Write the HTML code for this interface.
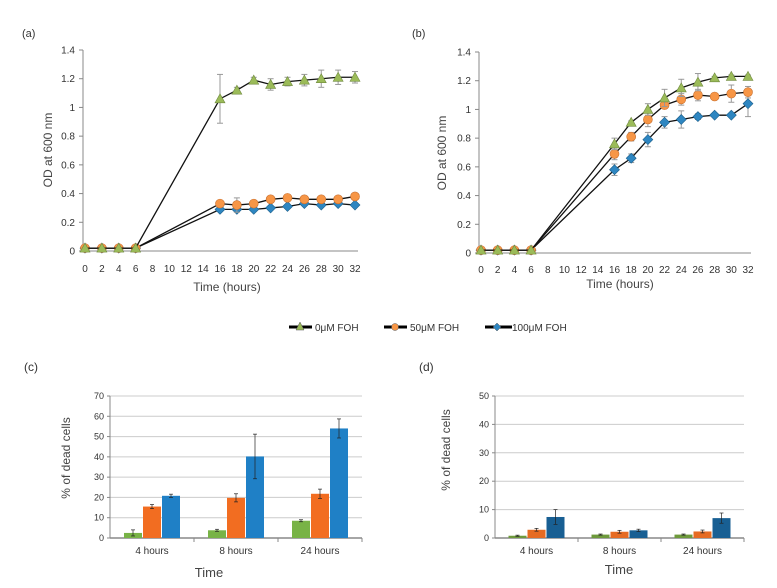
<!DOCTYPE html>
<html><head><meta charset="utf-8"><style>
body{margin:0;background:#fff;}
svg{display:block;font-family:"Liberation Sans",sans-serif;}
</style></head><body>
<svg id="fig" width="777" height="588" viewBox="0 0 777 588" xmlns="http://www.w3.org/2000/svg">
<text x="22" y="37" font-size="11" fill="#333">(a)</text>
<text x="412" y="37" font-size="11" fill="#333">(b)</text>
<text x="24" y="371" font-size="12" fill="#333">(c)</text>
<text x="419" y="371" font-size="12" fill="#333">(d)</text>
<g>
<line x1="289" y1="327" x2="312" y2="327" stroke="#000" stroke-width="3"/><polygon points="300,322 304,330 296,330" fill="#9bbb59" stroke="#555" stroke-width="0.5"/><text x="315" y="331" font-size="10" fill="#333">0μM FOH</text>
<line x1="384" y1="327" x2="407" y2="327" stroke="#000" stroke-width="3"/><circle cx="395" cy="327" r="3.5" fill="#f79646" stroke="#555" stroke-width="0.5"/><text x="410" y="331" font-size="10" fill="#333">50μM FOH</text>
<line x1="485" y1="327" x2="512" y2="327" stroke="#000" stroke-width="3"/><polygon points="497,323 501,327 497,331 493,327" fill="#2e86c1" stroke="#555" stroke-width="0.5"/><text x="512" y="331" font-size="10" fill="#333">100μM FOH</text>
</g>
</svg>
<script>
const hours=[0,2,4,6,16,18,20,22,24,26,28,30,32];
const xTicks=[0,2,4,6,8,10,12,14,16,18,20,22,24,26,28,30,32];
const odTicks=[0,0.2,0.4,0.6,0.8,1,1.2,1.4];
const aGreen=[0.02,0.02,0.02,0.02,1.06,1.12,1.19,1.16,1.18,1.19,1.2,1.21,1.21];
const aGreenErr=[0,0,0,0,0.17,0.02,0.02,0.04,0.03,0.04,0.06,0.05,0.04];
const aOrange=[0.02,0.02,0.02,0.02,0.33,0.32,0.33,0.36,0.37,0.36,0.36,0.36,0.38];
const aOrangeErr=[0,0,0,0,0.02,0.05,0.02,0.02,0.01,0.01,0.01,0.01,0.01];
const aBlue=[0.02,0.02,0.02,0.02,0.29,0.29,0.29,0.30,0.31,0.33,0.32,0.33,0.32];
const aBlueErr=[0,0,0,0,0.01,0.01,0.01,0.01,0.01,0.01,0.01,0.01,0.01];
const bGreen=[0.02,0.02,0.02,0.02,0.76,0.91,1.0,1.08,1.15,1.19,1.22,1.23,1.23];
const bGreenErr=[0,0,0,0,0.04,0.01,0.04,0.06,0.06,0.06,0.01,0.01,0.01];
const bOrange=[0.02,0.02,0.02,0.02,0.69,0.81,0.93,1.03,1.07,1.10,1.09,1.11,1.12];
const bOrangeErr=[0,0,0,0,0.04,0.03,0.05,0.02,0.04,0.04,0.02,0.06,0.04];
const bBlue=[0.02,0.02,0.02,0.02,0.58,0.66,0.79,0.91,0.93,0.95,0.96,0.96,1.04];
const bBlueErr=[0,0,0,0,0.04,0.03,0.05,0.04,0.06,0.02,0.01,0.01,0.09];
const barCats=["4 hours","8 hours","24 hours"];
const cTicks=[0,10,20,30,40,50,60,70];
const cGreen=[2.5,3.8,8.5], cGreenErr=[1.5,0.5,0.5];
const cOrange=[15.5,19.8,21.8], cOrangeErr=[1,2,2.3];
const cBlue=[20.8,40.2,54], cBlueErr=[0.8,11,4.7];
const dTicks=[0,10,20,30,40,50];
const dGreen=[0.8,1.2,1.2], dGreenErr=[0.2,0.2,0.2];
const dOrange=[2.9,2.2,2.3], dOrangeErr=[0.5,0.5,0.5];
const dBlue=[7.4,2.7,7.0], dBlueErr=[2.6,0.4,1.8];

const NS="http://www.w3.org/2000/svg";
const svg=document.getElementById('fig');
function mk(tag,attrs,parent){const e=document.createElementNS(NS,tag);for(const k in attrs)e.setAttribute(k,attrs[k]);(parent||svg).appendChild(e);return e;}

function linePanel(P,id,series){
  const g=mk('g',{});
  
  
  const X=v=>P.x0+(v-0)/32*(P.x1-P.x0);
  const Y=v=>P.y0-(v/1.4)*(P.y0-P.y1);
  mk('line',{x1:P.ax,y1:P.y1,x2:P.ax,y2:P.y0,stroke:'#888'},g);
  mk('line',{x1:P.ax,y1:P.y0,x2:P.x1+3,y2:P.y0,stroke:'#888'},g);
  odTicks.forEach(t=>{
    mk('line',{x1:P.ax-4,y1:Y(t),x2:P.ax,y2:Y(t),stroke:'#888'},g);
    const tx=mk('text',{x:P.ax-8,y:Y(t)+3.5,'font-size':10,'text-anchor':'end',fill:'#333'},g);
    tx.textContent=t;
    
    
  });
  xTicks.forEach(t=>{
    const tx=mk('text',{x:X(t),y:P.xl,'font-size':10,'text-anchor':'middle',fill:'#333'},g);
    tx.textContent=t;
    
    
  });
  const xt=mk('text',{x:P.tx,y:P.ty,'font-size':12,'text-anchor':'middle',fill:'#444'},g);
  xt.textContent='Time (hours)';
  
  
  const yt=mk('text',{x:0,y:0,'font-size':12,'text-anchor':'middle',fill:'#444',transform:`translate(${P.yx},${P.yy}) rotate(-90)`},g);
  yt.textContent='OD at 600 nm';
  
  
  series.forEach(s=>{
    const sg=mk('g',{},g);
    
    
    s.err.forEach((e,i)=>{if(e>0){const x=X(hours[i]);
      mk('line',{x1:x,y1:Y(s.v[i]-e),x2:x,y2:Y(s.v[i]+e),stroke:'#999'},sg);
      mk('line',{x1:x-3,y1:Y(s.v[i]-e),x2:x+3,y2:Y(s.v[i]-e),stroke:'#999'},sg);
      mk('line',{x1:x-3,y1:Y(s.v[i]+e),x2:x+3,y2:Y(s.v[i]+e),stroke:'#999'},sg);}});
    mk('polyline',{points:s.v.map((v,i)=>X(hours[i])+','+Y(v)).join(' '),fill:'none',stroke:'#111','stroke-width':1.3},sg);
    s.v.forEach((v,i)=>{const x=X(hours[i]),y=Y(v);let m;
      if(s.shape==='tri')m=mk('polygon',{points:`${x},${y-5} ${x+5},${y+4} ${x-5},${y+4}`,fill:'#9bbb59',stroke:'#6f8a3e','stroke-width':0.6},sg);
      else if(s.shape==='circ')m=mk('circle',{cx:x,cy:y,r:4.5,fill:'#f79646',stroke:'#c87030','stroke-width':0.6},sg);
      else m=mk('polygon',{points:`${x},${y-5} ${x+5},${y} ${x},${y+5} ${x-5},${y}`,fill:'#2e86c1',stroke:'#1d5f8a','stroke-width':0.6},sg);
      
      });
  });
}
linePanel({ax:83,x0:85,x1:355,y0:251,y1:50,xl:272,tx:227,ty:291,yx:52,yy:150},'panel-a',[
 {name:'100um',v:aBlue,err:aBlueErr,shape:'dia'},
 {name:'50um',v:aOrange,err:aOrangeErr,shape:'circ'},
 {name:'0um',v:aGreen,err:aGreenErr,shape:'tri'}]);
linePanel({ax:479,x0:481,x1:748,y0:253,y1:52,xl:273,tx:620,ty:288,yx:446,yy:153},'panel-b',[
 {name:'100um',v:bBlue,err:bBlueErr,shape:'dia'},
 {name:'50um',v:bOrange,err:bOrangeErr,shape:'circ'},
 {name:'0um',v:bGreen,err:bGreenErr,shape:'tri'}]);

function barPanel(P,id,ticks,max,series){
  const g=mk('g',{});
  
  
  const Y=v=>P.y0-v/max*(P.y0-P.y1);
  const cw=(P.x1-P.ax)/barCats.length;
  ticks.forEach(t=>{
    if(t>0)mk('line',{x1:P.ax,y1:Y(t),x2:P.x1,y2:Y(t),stroke:'#ccc'},g);
    mk('line',{x1:P.ax-3,y1:Y(t),x2:P.ax,y2:Y(t),stroke:'#888'},g);
    const tx=mk('text',{x:P.ax-6,y:Y(t)+3,'font-size':9,'text-anchor':'end',fill:'#333'},g);
    tx.textContent=t;
    
    
  });
  mk('line',{x1:P.ax,y1:P.y1,x2:P.ax,y2:P.y0,stroke:'#888'},g);
  mk('line',{x1:P.ax,y1:P.y0,x2:P.x1,y2:P.y0,stroke:'#888','stroke-width':1.5},g);
  barCats.forEach((c,i)=>{
    const cx=P.ax+cw*(i+0.5);
    mk('line',{x1:P.ax+cw*(i+1),y1:P.y0,x2:P.ax+cw*(i+1),y2:P.y0+4,stroke:'#888'},g);
    const tx=mk('text',{x:cx,y:P.y0+16,'font-size':10,'text-anchor':'middle',fill:'#333'},g);
    tx.textContent=c;
    
    
    series.forEach((s,j)=>{
      const bx=cx+(j-1)*19-9;
      const r=mk('rect',{x:bx,y:Y(s.v[i]),width:18,height:P.y0-Y(s.v[i]),fill:s.c},g);
      
      
      const e=s.err[i],x=bx+9;
      mk('line',{x1:x,y1:Y(s.v[i]-e),x2:x,y2:Y(s.v[i]+e),stroke:'#222','stroke-width':0.7},g);
      mk('line',{x1:x-2,y1:Y(s.v[i]-e),x2:x+2,y2:Y(s.v[i]-e),stroke:'#222','stroke-width':0.7},g);
      mk('line',{x1:x-2,y1:Y(s.v[i]+e),x2:x+2,y2:Y(s.v[i]+e),stroke:'#222','stroke-width':0.7},g);
    });
  });
  const xt=mk('text',{x:P.tx,y:P.ty,'font-size':13,'text-anchor':'middle',fill:'#444'},g);
  xt.textContent='Time';
  
  
  const yt=mk('text',{x:0,y:0,'font-size':12,'text-anchor':'middle',fill:'#444',transform:`translate(${P.yx},${P.yy}) rotate(-90)`},g);
  yt.textContent='% of dead cells';
  
  
}
barPanel({ax:110,x1:362,y0:538,y1:396,tx:209,ty:577,yx:70,yy:458},'panel-c',cTicks,70,[
 {name:'0um',v:cGreen,err:cGreenErr,c:'#78b346'},
 {name:'50um',v:cOrange,err:cOrangeErr,c:'#f26d21'},
 {name:'100um',v:cBlue,err:cBlueErr,c:'#1f80c6'}]);
barPanel({ax:495,x1:744,y0:538,y1:396,tx:619,ty:574,yx:450,yy:450},'panel-d',dTicks,50,[
 {name:'0um',v:dGreen,err:dGreenErr,c:'#6e9a3c'},
 {name:'50um',v:dOrange,err:dOrangeErr,c:'#e66b22'},
 {name:'100um',v:dBlue,err:dBlueErr,c:'#185f93'}]);
</script>
</body></html>
